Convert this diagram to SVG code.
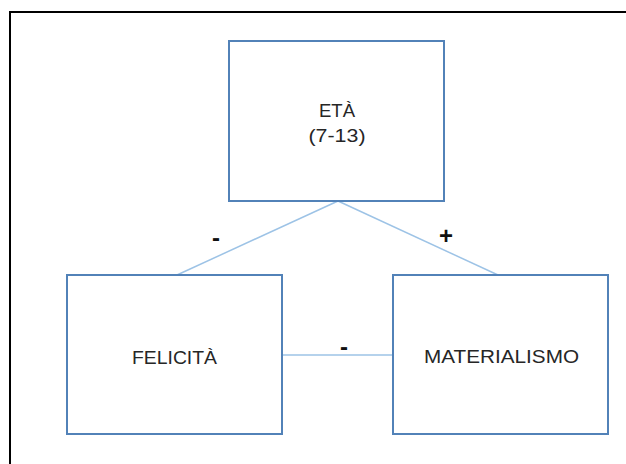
<svg xmlns="http://www.w3.org/2000/svg" width="626" height="464" viewBox="0 0 626 464">
<style>
.box{fill:#fff;stroke:#5282b8;stroke-width:2}
.lbl{font-family:"Liberation Sans",Arial,sans-serif;font-size:19px;fill:#262626;text-anchor:middle}
.sign{font-family:"Liberation Sans",Arial,sans-serif;font-size:24px;font-weight:bold;fill:#111;text-anchor:middle}
.conn{stroke:#9dc3e6;stroke-width:1.5;fill:none}
</style>
<rect width="626" height="464" fill="#fff"/>
<path d="M10,464 V12 H626" fill="none" stroke="#000" stroke-width="2"/>
<g id="connectors">
<line class="conn" x1="338" y1="201" x2="177" y2="275"/>
<line class="conn" x1="338" y1="201" x2="498" y2="275"/>
<line class="conn" x1="282" y1="355" x2="393" y2="355"/>
<text class="sign" x="216" y="246">-</text>
<text class="sign" x="446" y="244">+</text>
<text class="sign" x="344" y="355">-</text>
</g>
<g id="eta">
<rect class="box" x="229" y="41" width="215" height="160"/>
<text class="lbl" x="337" y="117" textLength="36" lengthAdjust="spacingAndGlyphs">ETÀ</text>
<text class="lbl" x="337" y="142" textLength="57" lengthAdjust="spacingAndGlyphs">(7-13)</text>
</g>
<g id="felicita">
<rect class="box" x="67" y="275" width="215" height="159"/>
<text class="lbl" x="174.5" y="364" textLength="85" lengthAdjust="spacingAndGlyphs">FELICITÀ</text>
</g>
<g id="materialismo">
<rect class="box" x="393" y="275" width="215" height="159"/>
<text class="lbl" x="501.5" y="363" textLength="155" lengthAdjust="spacingAndGlyphs">MATERIALISMO</text>
</g>
</svg>
